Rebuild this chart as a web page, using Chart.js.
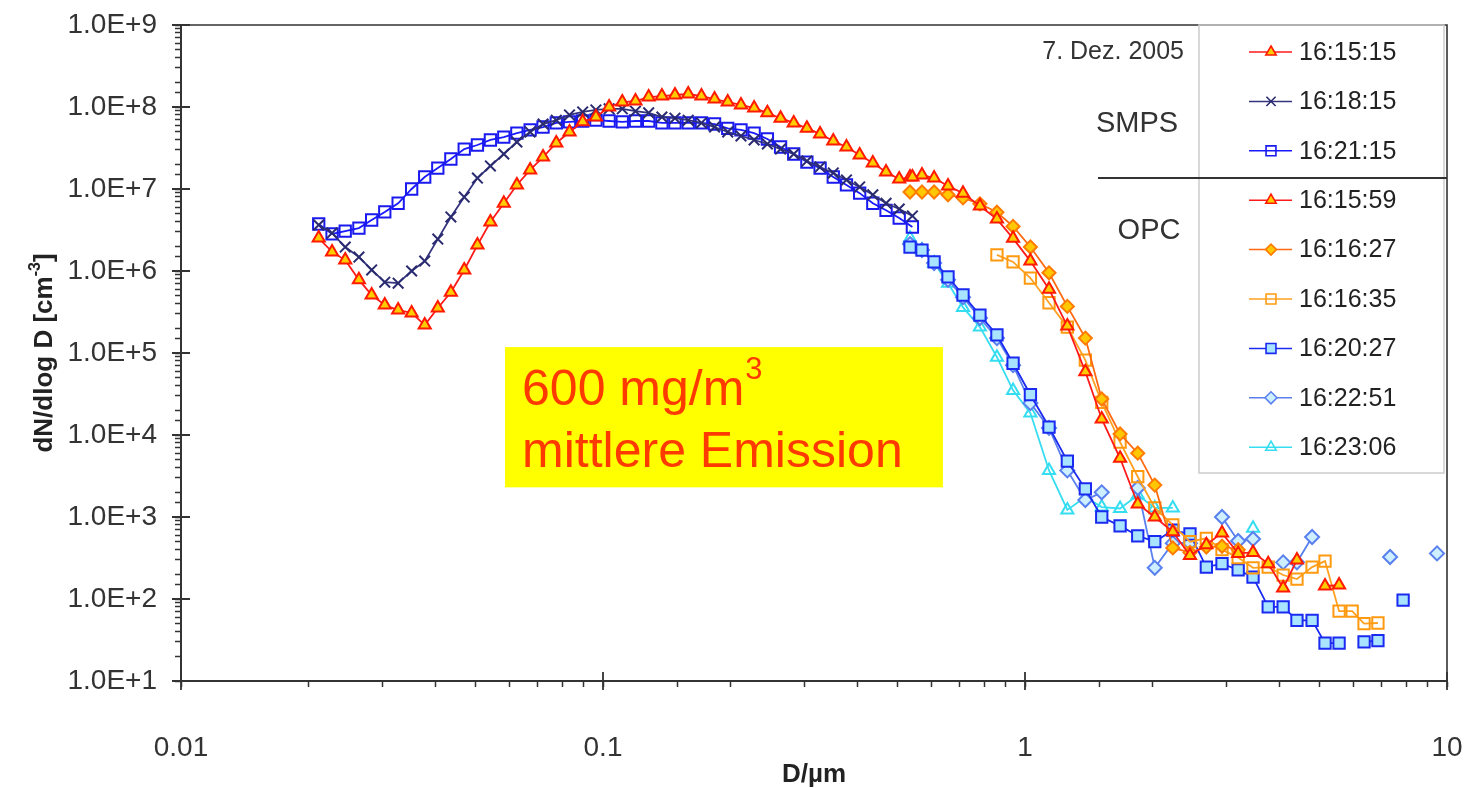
<!DOCTYPE html>
<html>
<head>
<meta charset="utf-8">
<script src="https://cdn.jsdelivr.net/npm/chart.js@4.4.0/dist/chart.umd.min.js"></script>
<style>
    html, body { margin: 0; padding: 0; background: #fff; }
    #wrap { width: 1465px; height: 788px; }
</style>
</head>
<body>
<div id="wrap"><canvas id="psdChart" width="1465" height="788"></canvas></div>
<script>
// SMPS Kanäle (µm)
const smpsD = [0.0212, 0.0228, 0.0245, 0.0264, 0.0283, 0.0304, 0.0327, 0.0352, 0.0378, 0.0406,
    0.0436, 0.0469, 0.0504, 0.0541, 0.0582, 0.0625, 0.0672, 0.0721, 0.0775, 0.0833,
    0.0895, 0.0962, 0.1034, 0.1111, 0.1194, 0.1283, 0.1379, 0.1481, 0.1592, 0.1711,
    0.1838, 0.1975, 0.2123, 0.2281, 0.2452, 0.2635, 0.2831, 0.3042, 0.3269, 0.3513,
    0.3775, 0.4057, 0.4359, 0.4685, 0.5034, 0.5410];

const smps161515 = [2.52e6, 1.71e6, 1.36e6, 7.8e5, 5.1e5, 3.85e5, 3.34e5, 3.08e5, 2.19e5, 3.54e5,
    5.5e5, 1.03e6, 2.07e6, 3.96e6, 6.7e6, 1.12e7, 1.71e7, 2.45e7, 3.64e7, 4.96e7,
    6.6e7, 7.55e7, 1.0e8, 1.15e8, 1.18e8, 1.32e8, 1.36e8, 1.40e8, 1.44e8, 1.36e8,
    1.25e8, 1.15e8, 1.06e8, 9.7e7, 8.5e7, 7.3e7, 6.4e7, 5.5e7, 4.7e7, 3.85e7,
    3.25e7, 2.6e7, 2.07e7, 1.61e7, 1.32e7, 1.40e7];
const smps161815 = [3.64e6, 2.9e6, 1.96e6, 1.48e6, 1.03e6, 7.3e5, 7.1e5, 1.0e6, 1.32e6, 2.45e6,
    4.56e6, 7.98e6, 1.36e7, 1.91e7, 2.67e7, 3.74e7, 4.96e7, 6.2e7, 6.9e7, 8.0e7,
    8.7e7, 9.2e7, 9.5e7, 9.5e7, 8.9e7, 8.5e7, 7.55e7, 7.3e7, 6.9e7, 6.4e7,
    5.7e7, 4.96e7, 4.43e7, 3.96e7, 3.54e7, 3.07e7, 2.67e7, 2.19e7, 1.85e7, 1.57e7,
    1.29e7, 1.06e7, 8.5e6, 6.7e6, 5.7e6, 4.7e6];
const smps162115 = [3.74e6, 2.83e6, 3.07e6, 3.34e6, 4.19e6, 5.25e6, 6.7e6, 1.0e7, 1.4e7, 1.8e7,
    2.32e7, 3.07e7, 3.44e7, 3.96e7, 4.3e7, 4.8e7, 5.25e7, 5.7e7, 6.4e7, 6.6e7,
    6.75e7, 6.9e7, 6.75e7, 6.6e7, 6.75e7, 6.75e7, 6.4e7, 6.4e7, 6.4e7, 6.4e7,
    6.2e7, 5.5e7, 5.25e7, 4.8e7, 4.07e7, 3.25e7, 2.67e7, 2.13e7, 1.8e7, 1.4e7,
    1.12e7, 8.9e6, 6.7e6, 5.5e6, 4.43e6, 3.44e6];

// OPC Kanäle (µm), null = kein Messwert
const opcD = [0.534, 0.570, 0.609, 0.657, 0.713, 0.782, 0.858, 0.937, 1.03, 1.14,
    1.26, 1.39, 1.52, 1.68, 1.85, 2.03, 2.24, 2.46, 2.69, 2.93,
    3.20, 3.47, 3.77, 4.09, 4.41, 4.79, 5.14, 5.55, 5.96, 6.36,
    6.86, 7.33, 7.87, 8.63, 9.47];

const opc161559 = [1.40e7, 1.48e7, 1.36e7, 1.09e7, 8.9e6, 6.2e6, 4.3e6, 2.5e6, 1.32e6, 6.0e5,
    2.13e5, 5.9e4, 1.57e4, 5.2e3, 1.44e3, 1.0e3, 6.6e2, 3.4e2, 4.6e2, 6.4e2,
    3.6e2, 3.7e2, 2.7e2, 1.36e2, 3.0e2, null, 1.44e2, 1.48e2];
const opc161627 = [9.2e6, 9.2e6, 9.2e6, 8.5e6, 7.8e6, 6.6e6, 5.2e6, 3.5e6, 1.96e6, 9.5e5,
    3.7e5, 1.52e5, 2.75e4, 1.03e4, 6.0e3, 2.45e3, 4.2e2, 3.7e2, 4.3e2, 4.4e2,
    4.0e2];
const opc161635 = [null, null, null, null, null, null, 1.57e6, 1.29e6, 8.2e5, 4.1e5,
    2.07e5, 8.2e4, 2.5e4, 8.2e3, 3.1e3, 1.29e3, 8.0e2, 5.0e2, 5.5e2, 4.0e2,
    3.2e2, 2.4e2, 2.45e2, 1.96e2, 1.75e2, 2.45e2, 2.9e2, 71, 71, 50,
    51];
const opc162027 = [1.96e6, 1.80e6, 1.29e6, 8.5e5, 5.1e5, 2.9e5, 1.66e5, 7.5e4, 3.1e4, 1.25e4,
    4.8e3, 2.2e3, 1.0e3, 7.8e2, 5.9e2, 5.0e2, 6.9e2, 6.2e2, 2.45e2, 2.7e2,
    2.26e2, 1.85e2, 80, 80, 55, 55, 29, 29, null, 30,
    31, null, 97];
const opc162251 = [2.13e6, 1.80e6, 1.25e6, 7.8e5, 4.8e5, 2.67e5, 1.52e5, 7.1e4, 2.45e4, 1.22e4,
    3.7e3, 1.61e3, 2.0e3, null, 2.26e3, 2.4e2, 4.8e2, 4.8e2, null, 1.0e3,
    5.1e2, 5.4e2, null, 2.8e2, 2.8e2, 5.7e2, null, null, null, null,
    null, 3.25e2, null, null, 3.6e2];
const opc162306 = [2.5e6, 1.8e6, 1.25e6, 7.1e5, 3.6e5, 2.07e5, 8.9e4, 3.5e4, 1.85e4, 3.7e3,
    1.22e3, 1.75e3, 1.32e3, 1.27e3, 1.85e3, 1.29e3, 1.29e3, null, null, null,
    null, 7.3e2];

// Achsenbeschriftungen
const xTickLabels = {'-2': '0.01', '-1': '0.1', '0': '1', '1': '10'};
const yTickLabels = {1: '1.0E+1', 2: '1.0E+2', 3: '1.0E+3', 4: '1.0E+4', 5: '1.0E+5',
    6: '1.0E+6', 7: '1.0E+7', 8: '1.0E+8', 9: '1.0E+9'};
const xDecades = [0.01, 0.1, 1, 10];
const yDecades = [1e1, 1e2, 1e3, 1e4, 1e5, 1e6, 1e7, 1e8, 1e9];

// Textfeld (D in µm, dN/dlogD)
const noteBoxD = [0.0586, 0.639];
const noteBoxN = [1.18e5, 2.3e3];

const FONT = '"Liberation Sans", Arial, sans-serif';

const toPoints = (xs, ys) => xs.slice(0, ys.length).map((d, i) => ({x: d, y: ys[i]}));

const series = (label, xs, ys, style) => Object.assign({
    label: label,
    data: toPoints(xs, ys),
    showLine: true,
    spanGaps: false,
    borderWidth: 1.8,
    pointBorderWidth: 2,
    pointHoverRadius: 0,
}, style);

const redTri = {borderColor: '#FF1A1A', pointBorderColor: '#FF1A00', pointBackgroundColor: '#FFCC00',
    pointStyle: 'triangle', pointRadius: 7};

const datasets = [
    series('16:15:15', smpsD, smps161515, redTri),
    series('16:18:15', smpsD, smps161815, {borderColor: '#34347E', pointBorderColor: '#2A2A70',
        pointBackgroundColor: '#2A2A70', pointStyle: 'crossRot', pointRadius: 7.5}),
    series('16:21:15', smpsD, smps162115, {borderColor: '#1A1AFF', pointBorderColor: '#1A1AF0',
        pointBackgroundColor: 'rgba(0,0,0,0)', pointStyle: 'rect', pointRadius: 8}),
    series('16:15:59', opcD, opc161559, redTri),
    series('16:16:27', opcD, opc161627, {borderColor: '#FF6A10', pointBorderColor: '#FF7A00',
        pointBackgroundColor: '#FFC800', pointStyle: 'rectRot', pointRadius: 6.5}),
    series('16:16:35', opcD, opc161635, {borderColor: '#FFA020', pointBorderColor: '#FF9A10',
        pointBackgroundColor: 'rgba(0,0,0,0)', pointStyle: 'rect', pointRadius: 8}),
    series('16:20:27', opcD, opc162027, {borderColor: '#1A2AF0', pointBorderColor: '#1A2AF0',
        pointBackgroundColor: '#A8E4FF', pointStyle: 'rect', pointRadius: 8}),
    series('16:22:51', opcD, opc162251, {borderColor: '#5A80F0', pointBorderColor: '#5A80F0',
        pointBackgroundColor: '#CDEFFF', pointStyle: 'rectRot', pointRadius: 7}),
    series('16:23:06', opcD, opc162306, {borderColor: '#35DDF0', pointBorderColor: '#35DDF0',
        pointBackgroundColor: 'rgba(0,0,0,0)', pointStyle: 'triangle', pointRadius: 7}),
];

const isDecade = (v) => {
    const e = Math.log10(v);
    return Math.abs(e - Math.round(e)) < 1e-6 ? Math.round(e) : null;
};

const markerAt = (ctx, ds, x, y) => {
    ctx.save();
    ctx.strokeStyle = ds.pointBorderColor;
    ctx.fillStyle = ds.pointBackgroundColor;
    ctx.lineWidth = 1.6;
    const opts = {pointStyle: ds.pointStyle, radius: ds.pointRadius - 1, rotation: 0, borderWidth: 1.6};
    if (Chart.helpers && Chart.helpers.drawPoint) {
        Chart.helpers.drawPoint(ctx, opts, x, y);
    }
    ctx.restore();
};

// Textfeld, Rahmen, Legende und Achsentitel
const decorPlugin = {
    id: 'decor',
    beforeDatasetsDraw(chart) {
        const {ctx, scales: {x, y}} = chart;
        const l = x.getPixelForValue(noteBoxD[0]);
        const r = x.getPixelForValue(noteBoxD[1]);
        const t = y.getPixelForValue(noteBoxN[0]);
        const b = y.getPixelForValue(noteBoxN[1]);
        ctx.save();
        ctx.fillStyle = '#FFFF00';
        ctx.fillRect(l, t, r - l, b - t);
        ctx.fillStyle = '#FF3A00';
        ctx.textBaseline = 'alphabetic';
        ctx.textAlign = 'left';
        ctx.font = '50px ' + FONT;
        ctx.fillText('600 mg/m', l + 17, t + 58);
        const w = ctx.measureText('600 mg/m').width;
        ctx.font = '31px ' + FONT;
        ctx.fillText('3', l + 17 + w + 1, t + 32);
        ctx.font = '50px ' + FONT;
        ctx.fillText('mittlere Emission', l + 17, t + 120);
        ctx.restore();
    },
    afterDraw(chart) {
        const {ctx, chartArea: ca, scales: {x, y}} = chart;
        ctx.save();

        // Rahmen oben und rechts
        ctx.strokeStyle = '#333';
        ctx.lineWidth = 1.6;
        ctx.beginPath();
        ctx.moveTo(ca.left, ca.top);
        ctx.lineTo(ca.right, ca.top);
        ctx.lineTo(ca.right, ca.bottom);
        ctx.stroke();

        // Hauptstriche über die Achse
        ctx.lineWidth = 1.8;
        ctx.beginPath();
        yDecades.forEach(v => {
            const py = y.getPixelForValue(v);
            ctx.moveTo(ca.left - 9, py);
            ctx.lineTo(ca.left + 9, py);
        });
        xDecades.forEach(v => {
            const px = x.getPixelForValue(v);
            ctx.moveTo(px, ca.bottom - 9);
            ctx.lineTo(px, ca.bottom + 9);
        });
        ctx.stroke();

        // Legende
        const boxL = ca.right - 248, boxR = ca.right - 3;
        const boxT = ca.top, boxB = ca.top + 448;
        ctx.strokeStyle = '#CCCCCC';
        ctx.lineWidth = 1.5;
        ctx.strokeRect(boxL, boxT, boxR - boxL, boxB - boxT);

        ctx.strokeStyle = '#333';
        ctx.lineWidth = 2;
        ctx.beginPath();
        ctx.moveTo(ca.right - 349, ca.top + 153);
        ctx.lineTo(ca.right, ca.top + 153);
        ctx.stroke();

        ctx.textBaseline = 'middle';
        chart.data.datasets.forEach((ds, i) => {
            const ry = ca.top + 27 + i * 49.4;
            ctx.strokeStyle = ds.borderColor;
            ctx.lineWidth = 1.5;
            ctx.beginPath();
            ctx.moveTo(boxL + 50, ry);
            ctx.lineTo(boxL + 93, ry);
            ctx.stroke();
            markerAt(ctx, ds, boxL + 72, ry);
            ctx.fillStyle = '#222';
            ctx.font = '25px ' + FONT;
            ctx.textAlign = 'left';
            ctx.fillText(ds.label, boxL + 100, ry + 1);
        });

        ctx.fillStyle = '#333';
        ctx.font = '25px ' + FONT;
        ctx.textAlign = 'right';
        ctx.fillText('7. Dez. 2005', boxL - 15, ca.top + 27);
        ctx.font = '29px ' + FONT;
        ctx.textAlign = 'center';
        ctx.fillText('SMPS', boxL - 62, ca.top + 99);
        ctx.fillText('OPC', boxL - 50, ca.top + 206);

        // Achsentitel
        ctx.fillStyle = '#222';
        ctx.font = 'bold 26px ' + FONT;
        ctx.textAlign = 'center';
        ctx.fillText('D/µm', (ca.left + ca.right) / 2, 775);

        ctx.translate(45, (ca.top + ca.bottom) / 2);
        ctx.rotate(-Math.PI / 2);
        const main = 'dN/dlog D [cm';
        ctx.font = 'bold 26px ' + FONT;
        const w1 = ctx.measureText(main).width;
        ctx.font = 'bold 16px ' + FONT;
        const w2 = ctx.measureText('-3').width;
        ctx.font = 'bold 26px ' + FONT;
        const w3 = ctx.measureText(']').width;
        let sx = -(w1 + w2 + w3) / 2;
        ctx.textAlign = 'left';
        ctx.fillText(main, sx, 0);
        sx += w1;
        ctx.font = 'bold 16px ' + FONT;
        ctx.fillText('-3', sx, -9);
        sx += w2;
        ctx.font = 'bold 26px ' + FONT;
        ctx.fillText(']', sx, 0);

        ctx.restore();
    }
};

const psdChart = new Chart(document.getElementById('psdChart').getContext('2d'), {
    type: 'scatter',
    data: {datasets: datasets},
    options: {
        responsive: false,
        animation: false,
        events: [],
        layout: {padding: {top: 25, right: 18, left: 0, bottom: 0}},
        plugins: {legend: {display: false}, tooltip: {enabled: false}},
        scales: {
            x: {
                type: 'logarithmic',
                min: 0.01,
                max: 10,
                border: {color: '#333', width: 2},
                grid: {display: true, drawOnChartArea: false, color: '#333', tickLength: 6, tickWidth: 1.5},
                ticks: {
                    autoSkip: false,
                    maxRotation: 0,
                    padding: 2,
                    color: '#333',
                    font: {family: FONT, size: 28, lineHeight: 4.25},
                    callback: (v) => {
                        const e = isDecade(v);
                        return e === null ? '' : (xTickLabels[e] || '');
                    }
                },
                afterFit: (s) => { s.height = 107; }
            },
            y: {
                type: 'logarithmic',
                min: 10,
                max: 1e9,
                border: {color: '#333', width: 2},
                grid: {display: true, drawOnChartArea: false, color: '#333', tickLength: 6, tickWidth: 1.5},
                ticks: {
                    autoSkip: false,
                    padding: 18,
                    color: '#333',
                    font: {family: FONT, size: 28, lineHeight: 0.4},
                    callback: (v) => {
                        const e = isDecade(v);
                        return e === null ? '' : (yTickLabels[e] || '');
                    }
                },
                afterFit: (s) => { s.width = 181; }
            }
        }
    },
    plugins: [decorPlugin]
});
</script>
</body>
</html>
